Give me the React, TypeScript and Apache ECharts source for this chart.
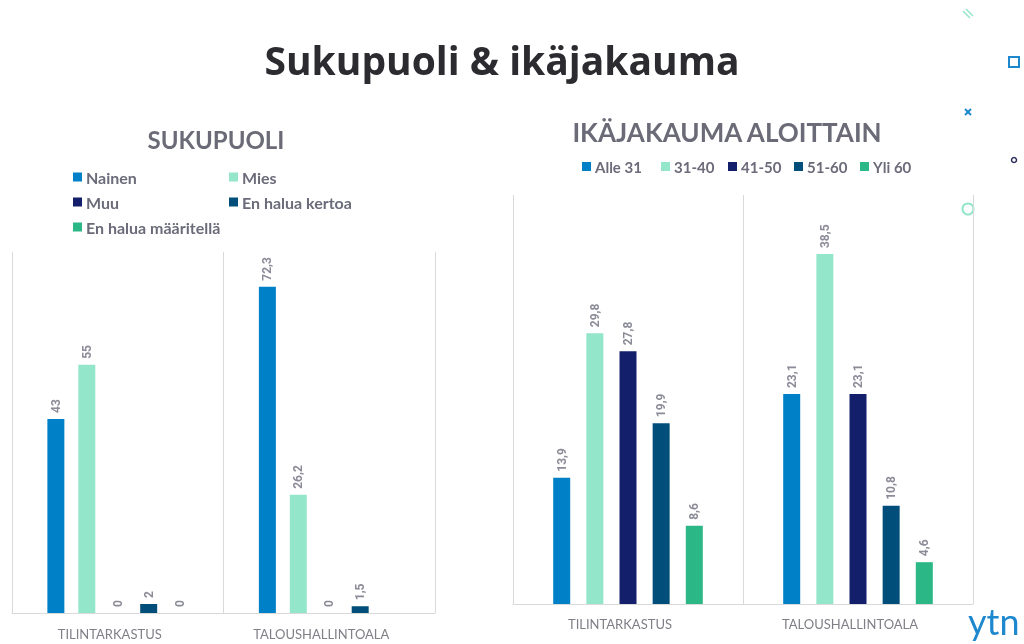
import React, { useEffect, useRef } from "react";
import * as echarts from "echarts";

const categories = ["TILINTARKASTUS", "TALOUSHALLINTOALA"];

const genderSeries = ["Nainen", "Mies", "Muu", "En halua kertoa", "En halua määritellä"];
const genderValues: (number | null)[][] = [
  [43, 72.3],
  [55, 26.2],
  [0, 0],
  [2, 1.5],
  [0, null],
];

const ageSeries = ["Alle 31", "31-40", "41-50", "51-60", "Yli 60"];
const ageValues: number[][] = [
  [13.9, 23.1],
  [29.8, 38.5],
  [27.8, 23.1],
  [19.9, 10.8],
  [8.6, 4.6],
];

const colors = ["#0080c6", "#94e6cb", "#141f6b", "#004e79", "#2bb886"];

const fmt = (v: number) => String(v).replace(".", ",");

export default function App() {
  const ref = useRef<HTMLDivElement>(null);
  useEffect(() => {
    const chart = echarts.init(ref.current!, null, { renderer: "svg" });
    const labelFor = {
      show: true,
      position: "top" as const,
      rotate: 90,
      align: "left" as const,
      verticalAlign: "middle" as const,
      distance: 6,
      color: "#8c8c99",
      fontSize: 12,
      fontWeight: "bold" as const,
      fontFamily: "Roboto",
      formatter: (p: any) => fmt(p.value),
    };
    const legendText = {
      color: "#6b6b7a",
      fontSize: 16,
      fontWeight: "bold" as const,
      fontFamily: "Lato",
    };
    const mkLegend = (name: string, x: number, y: number, size: number) => ({
      icon: "rect",
      itemWidth: 9,
      itemHeight: 9,
      itemGap: 0,
      orient: "horizontal" as const,
      selectedMode: false,
      padding: 0,
      left: x,
      top: y,
      data: [name],
      textStyle: { ...legendText, fontSize: size, padding: [0, 0, 0, -1] },
    });
    const xAxisBase = {
      type: "category" as const,
      data: categories,
      axisLine: { show: true, lineStyle: { color: "#d9d9d9", width: 1 } },
      axisTick: { show: false },
      splitLine: { show: true, lineStyle: { color: "#d9d9d9", width: 1 } },
      axisLabel: { color: "#7f7f87", fontSize: 13, fontFamily: "Lato", padding: [0, 16, 0, 0] },
    };
    const series: any[] = [];
    genderSeries.forEach((name, i) => {
      series.push({
        name,
        type: "bar",
        xAxisIndex: 0,
        yAxisIndex: 0,
        data: genderValues[i],
        barWidth: 17,
        barGap: "82%",
        itemStyle: { color: colors[i] },
        label: labelFor,
      });
    });
    ageSeries.forEach((name, i) => {
      series.push({
        name,
        type: "bar",
        xAxisIndex: 1,
        yAxisIndex: 1,
        data: ageValues[i],
        barWidth: 17,
        barGap: "95%",
        itemStyle: { color: colors[i] },
        label: labelFor,
      });
    });
    const leftLegendPos: [number, number][] = [
      [73, 169],
      [229, 169],
      [73, 194],
      [229, 194],
      [73, 219],
    ];
    const rightLegendX = [582, 661, 728, 794, 860];
    chart.setOption({
      animation: false,
      textStyle: { fontFamily: "Lato" },
      title: [
        {
          text: "Sukupuoli & ikäjakauma",
          left: 497,
          top: 35,
          textAlign: "center",
          textStyle: { fontSize: 39, fontWeight: "bold", color: "#2b2b30", fontFamily: "Open Sans" },
        },
        {
          text: "SUKUPUOLI",
          left: 211,
          top: 122,
          textAlign: "center",
          textStyle: { fontSize: 24, fontWeight: "bold", color: "#6b6b78", fontFamily: "Lato" },
        },
        {
          text: "IKÄJAKAUMA ALOITTAIN",
          left: 722,
          top: 114,
          textAlign: "center",
          textStyle: { fontSize: 26, fontWeight: "bold", color: "#6b6b78", fontFamily: "Lato" },
        },
      ],
      legend: [
        ...genderSeries.map((n, i) => mkLegend(n, leftLegendPos[i][0], leftLegendPos[i][1], 16)),
        ...ageSeries.map((n, i) => mkLegend(n, rightLegendX[i], 159, 15)),
      ],
      grid: [
        { left: 12, width: 423, top: 252, bottom: 31 },
        { left: 513, width: 460, top: 195, bottom: 40 },
      ],
      xAxis: [
        { ...xAxisBase, gridIndex: 0, axisLabel: { ...xAxisBase.axisLabel, margin: 14 } },
        { ...xAxisBase, gridIndex: 1, axisLabel: { ...xAxisBase.axisLabel, margin: 13 } },
      ],
      yAxis: [
        { type: "value", gridIndex: 0, min: 0, max: 80, show: false, splitLine: { show: false } },
        { type: "value", gridIndex: 1, min: 0, max: 45, show: false, splitLine: { show: false } },
      ],
      series,
      graphic: [
        { type: "line", shape: { x1: 963, y1: 11, x2: 970, y2: 18 }, style: { stroke: "#94e6cb", lineWidth: 1.5 } },
        { type: "line", shape: { x1: 966, y1: 9, x2: 973, y2: 16 }, style: { stroke: "#94e6cb", lineWidth: 1.5 } },
        { type: "rect", shape: { x: 1009, y: 57, width: 10, height: 10 }, style: { stroke: "#1e88cf", lineWidth: 2, fill: "none" } },
        { type: "line", shape: { x1: 965, y1: 109, x2: 971, y2: 115 }, style: { stroke: "#1e88cf", lineWidth: 2 } },
        { type: "line", shape: { x1: 971, y1: 109, x2: 965, y2: 115 }, style: { stroke: "#1e88cf", lineWidth: 2 } },
        { type: "circle", shape: { cx: 1014, cy: 160, r: 2.5 }, style: { stroke: "#2e2e5e", lineWidth: 1.5, fill: "none" } },
        { type: "circle", shape: { cx: 968, cy: 209, r: 5.5 }, style: { stroke: "#94e6cb", lineWidth: 2, fill: "none" } },
        {
          type: "text",
          x: 968,
          y: 603,
          style: { text: "ytn", fontSize: 36, fontFamily: "Lato", fill: "#1e88cf" },
        },
      ],
    });
    return () => chart.dispose();
  }, []);
  return <div ref={ref} style={{ position: "fixed", left: 0, top: 0, width: 1024, height: 644 }} />;
}
